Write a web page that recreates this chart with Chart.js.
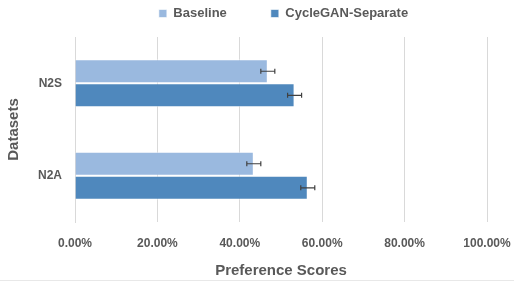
<!DOCTYPE html>
<html>
<head>
<meta charset="utf-8">
<script src="https://cdn.jsdelivr.net/npm/chart.js@4.4.1/dist/chart.umd.min.js"></script>
<style>
  html, body { margin: 0; padding: 0; background: #fff; }
  #wrap { width: 514px; height: 280px; border-bottom: 1px solid #e8e8e8; }
</style>
</head>
<body>
<div id="wrap"><canvas id="chart" width="514" height="280"></canvas></div>
<script>
// data
var categories = ['N2S', 'N2A'];
var baseline = [0.468, 0.434];
var baselineErr = [0.017, 0.017];
var cycleSep = [0.533, 0.565];
var cycleSepErr = [0.017, 0.017];
var xTicks = [0, 0.2, 0.4, 0.6, 0.8, 1.0];

var textGrey = '#595959';
var fontName = "'Liberation Sans', Arial, sans-serif";
var legendGap = 44;

// error bars, drawn through the chart scales
var errorBars = {
  id: 'errorBars',
  afterDatasetsDraw: function(chart) {
    var ctx = chart.ctx;
    var xs = chart.scales.x;
    ctx.save();
    ctx.strokeStyle = '#404040';
    ctx.lineWidth = 1.2;
    chart.data.datasets.forEach(function(ds, di) {
      var meta = chart.getDatasetMeta(di);
      meta.data.forEach(function(bar, i) {
        var v = ds.data[i];
        var e = ds.errors[i];
        var x1 = xs.getPixelForValue(v - e);
        var x2 = xs.getPixelForValue(v + e);
        var y = bar.y;
        ctx.beginPath();
        ctx.moveTo(x1, y); ctx.lineTo(x2, y);
        ctx.moveTo(x1, y - 2.5); ctx.lineTo(x1, y + 2.5);
        ctx.moveTo(x2, y - 2.5); ctx.lineTo(x2, y + 2.5);
        ctx.stroke();
      });
    });
    ctx.restore();
  }
};

// the legend uses a wide item gap, so move its box up / right after layout
var legendShift = {
  id: 'legendShift',
  afterLayout: function(chart) {
    var lg = chart.legend;
    lg.top = 7 - legendGap;
    lg.left += 40;
    lg.right += 40;
  }
};

var ctx = document.getElementById('chart').getContext('2d');
var myChart = new Chart(ctx, {
  type: 'bar',
  data: {
    labels: categories,
    datasets: [
      {
        label: 'Baseline',
        data: baseline,
        errors: baselineErr,
        backgroundColor: '#9ab9df',
        borderColor: 'rgba(255,255,255,0.6)',
        borderWidth: 1,
        borderSkipped: 'left'
      },
      {
        label: 'CycleGAN-Separate',
        data: cycleSep,
        errors: cycleSepErr,
        backgroundColor: '#4f88bd',
        borderColor: 'rgba(255,255,255,0.6)',
        borderWidth: 1,
        borderSkipped: 'left'
      }
    ]
  },
  options: {
    indexAxis: 'y',
    responsive: false,
    animation: false,
    devicePixelRatio: 1,
    layout: { padding: { left: 0, right: 27, top: 0, bottom: 0 } },
    categoryPercentage: 0.52,
    barPercentage: 1.0,
    plugins: {
      tooltip: { enabled: false },
      legend: {
        position: 'top',
        maxHeight: 37,
        labels: {
          boxWidth: 8,
          boxHeight: 8,
          padding: legendGap,
          color: textGrey,
          font: { family: fontName, size: 13, weight: 'bold' }
        }
      }
    },
    scales: {
      x: {
        min: 0,
        max: 1,
        afterBuildTicks: function(s) {
          s.ticks = xTicks.map(function(v) { return { value: v }; });
        },
        afterFit: function(s) {
          s.height = 58;
          s.paddingLeft = 0;
          s.paddingRight = 0;
        },
        grid: { color: '#d9d9d9', drawTicks: false },
        border: { display: false },
        ticks: {
          padding: 14,
          color: textGrey,
          font: { family: fontName, size: 12, weight: 'bold' },
          callback: function(v) { return (v * 100).toFixed(2) + '%'; }
        },
        title: {
          display: true,
          text: 'Preference Scores',
          color: textGrey,
          padding: { top: 4, bottom: 0 },
          font: { family: fontName, size: 15, weight: 'bold' }
        }
      },
      y: {
        afterFit: function(s) { s.width = 75; },
        grid: { display: false, drawTicks: false },
        border: { display: true, color: '#d9d9d9', width: 1 },
        ticks: {
          padding: 13,
          color: textGrey,
          font: { family: fontName, size: 12, weight: 'bold' }
        },
        title: {
          display: true,
          text: 'Datasets',
          color: textGrey,
          padding: { top: 5, bottom: 0 },
          font: { family: fontName, size: 15, weight: 'bold' }
        }
      }
    }
  },
  plugins: [errorBars, legendShift]
});
</script>
</body>
</html>
